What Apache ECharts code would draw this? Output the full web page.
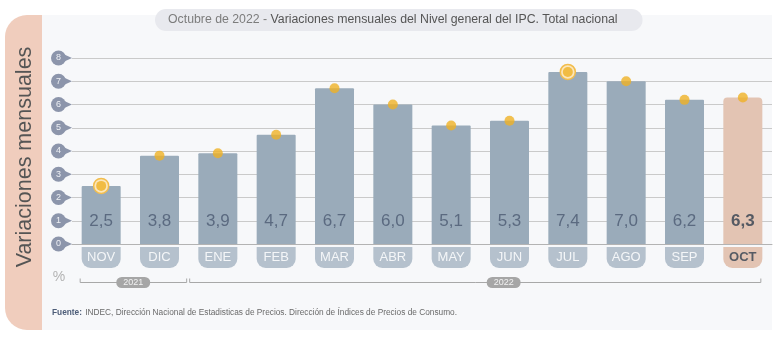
<!DOCTYPE html>
<html>
<head>
<meta charset="utf-8">
<title>IPC - Variaciones mensuales</title>
<script src="https://cdn.jsdelivr.net/npm/echarts@6/dist/echarts.min.js"></script>
<style>
  html, body { margin: 0; padding: 0; background: #ffffff; }
  #chart { width: 781px; height: 338px; }
</style>
</head>
<body>
<div id="chart"></div>
<script>
// Monthly change of the national CPI (general level), Nov 2021 - Oct 2022
const months = ['NOV', 'DIC', 'ENE', 'FEB', 'MAR', 'ABR', 'MAY', 'JUN', 'JUL', 'AGO', 'SEP', 'OCT'];
const monthlyChange = [2.5, 3.8, 3.9, 4.7, 6.7, 6.0, 5.1, 5.3, 7.4, 7.0, 6.2, 6.3];
const yTicks = [0, 1, 2, 3, 4, 5, 6, 7, 8];
const yearLabels = ['2021', '2022'];
const yearFirstMonth = [0, 2];
const yearLastMonth = [1, 11];

const titleDate = 'Octubre de 2022 - ';
const titleText = 'Variaciones mensuales del Nivel general del IPC. Total nacional';
const yAxisTitle = 'Variaciones mensuales';
const unitText = '%';
const sourceLabel = 'Fuente:';
const sourceText = 'INDEC, Dirección Nacional de Estadisticas de Precios. Dirección de Índices de Precios de Consumo.';

const FONT = '"Liberation Sans", Arial, Helvetica, sans-serif';
const BAR = '#9aabba';
const BAR_CURRENT = '#e3c4b3';
const PILL = '#b5c1cd';
const BUBBLE = '#8c95ab';
const DOT = '#efb125';
const lastIdx = months.length - 1;

const fmt = v => v.toFixed(1).replace('.', ',');

const chart = echarts.init(document.getElementById('chart'), null, { renderer: 'canvas' });

const option = {
  backgroundColor: '#ffffff',
  animation: false,
  textStyle: { fontFamily: FONT },
  title: {
    text: '{a|' + titleDate + '}{b|' + titleText + '}',
    left: 155,
    top: 8,
    padding: [5, 25, 5, 13],
    backgroundColor: '#e8e9ee',
    borderRadius: 12,
    textStyle: {
      fontWeight: 'normal',
      rich: {
        a: { color: '#7c7c7c', fontSize: 12.3, fontWeight: 'normal', fontFamily: FONT, lineHeight: 14 },
        b: { color: '#555555', fontSize: 12.3, fontWeight: 'normal', fontFamily: FONT, lineHeight: 14 }
      }
    }
  },
  grid: { left: 72, right: 9, top: 58, bottom: 94, containLabel: false },
  xAxis: {
    type: 'category',
    data: months,
    axisLine: { show: true, lineStyle: { color: '#b3b3b3', width: 1 } },
    axisTick: { show: false },
    axisLabel: {
      margin: 3,
      interval: 0,
      formatter: (value, index) => (index === lastIdx ? '{o|' + value + '}' : '{p|' + value + '}'),
      rich: {
        p: {
          width: 39, height: 21, lineHeight: 21, align: 'center',
          backgroundColor: PILL, borderRadius: [0, 0, 9, 9],
          color: '#f4f6f8', fontSize: 13, fontFamily: FONT
        },
        o: {
          width: 39, height: 21, lineHeight: 21, align: 'center',
          backgroundColor: BAR_CURRENT, borderRadius: [0, 0, 9, 9],
          color: '#565b64', fontSize: 13, fontWeight: 'bold', fontFamily: FONT
        }
      }
    }
  },
  yAxis: {
    type: 'value',
    min: 0,
    max: 8,
    interval: 1,
    axisLine: { show: false },
    axisTick: { show: false },
    splitLine: { lineStyle: { color: '#cacaca', width: 1 } },
    axisLabel: {
      margin: 6,
      formatter: v => '{c|' + v + '}',
      rich: {
        c: {
          width: 15, height: 15, lineHeight: 15, align: 'center',
          backgroundColor: BUBBLE, borderRadius: 7.5,
          color: '#eef0f4', fontSize: 9, fontFamily: FONT
        }
      }
    }
  },
  series: [
    {
      // pointed tips of the y-axis tick bubbles
      type: 'custom',
      clip: false,
      silent: true,
      z: 1,
      data: yTicks.map(v => [0, v]),
      encode: { x: 0, y: 1 },
      renderItem: (params, api) => {
        const p = api.coord([0, api.value(1)]);
        const left = params.coordSys.x;
        return {
          type: 'polygon',
          shape: { points: [[left - 11, p[1] - 5], [left, p[1]], [left - 11, p[1] + 5]] },
          style: { fill: BUBBLE }
        };
      }
    },
    {
      type: 'bar',
      barWidth: 39,
      data: monthlyChange.map((v, i) => ({
        value: v,
        itemStyle: {
          color: i === lastIdx ? BAR_CURRENT : BAR,
          borderRadius: i === lastIdx ? [4, 4, 0, 0] : [1, 1, 0, 0]
        },
        label: i === lastIdx ? { color: '#555a63', fontWeight: 'bold' } : undefined
      })),
      label: {
        show: true,
        position: 'insideBottom',
        distance: 14,
        fontSize: 17,
        fontFamily: FONT,
        color: '#5b6a80',
        formatter: p => fmt(p.value)
      },
      markPoint: {
        symbol: 'circle',
        symbolSize: 15,
        silent: true,
        label: { show: false },
        itemStyle: { color: '#fbe6bb', borderColor: '#f2bd4c', borderWidth: 1.5 },
        data: [{ type: 'min' }, { type: 'max' }]
      }
    },
    {
      type: 'scatter',
      z: 10,
      symbol: 'circle',
      symbolSize: 10,
      itemStyle: { color: DOT },
      data: monthlyChange
    }
  ],
  graphic: {
    elements: [
      {
        type: 'rect', z: -10, silent: true,
        shape: { x: 42, y: 15, width: 730, height: 315 },
        style: { fill: '#f7f8fa' }
      },
      {
        type: 'rect', z: -10, silent: true,
        shape: { x: 5, y: 15, width: 37, height: 315, r: [22, 0, 0, 22] },
        style: { fill: '#f0cdbd' }
      },
      {
        type: 'text', silent: true,
        x: 25, y: 157, rotation: Math.PI / 2,
        style: {
          text: yAxisTitle, fill: '#555555',
          font: '21.5px ' + FONT, align: 'center', verticalAlign: 'middle'
        }
      },
      {
        type: 'text', silent: true,
        x: 59, y: 277,
        style: { text: unitText, fill: '#b3b3b3', font: '14px ' + FONT, align: 'center', verticalAlign: 'middle' }
      },
      {
        type: 'text', silent: true,
        x: 52, y: 313,
        style: {
          text: '{b|' + sourceLabel + '} {n|' + sourceText + '}',
          verticalAlign: 'middle',
          rich: {
            b: { fontSize: 8.3, fontWeight: 'bold', fill: '#4d5d78', fontFamily: FONT },
            n: { fontSize: 8.3, fill: '#6a6a6a', fontFamily: FONT }
          }
        }
      }
    ]
  }
};

chart.setOption(option);

// Year brackets under the month labels, placed from the category axis
const px = i => chart.convertToPixel({ xAxisIndex: 0 }, i);
const bracketY = 282.5;
const yearLabelAt = [0.55, 6.9];
const brackets = [];
yearLabels.forEach((label, k) => {
  const a = yearFirstMonth[k], b = yearLastMonth[k];
  const x0 = a === 0 ? px(0) - 21 : (px(a - 1) + px(a)) / 2 + 1;
  const x1 = b === lastIdx ? px(b) + 18 : (px(b) + px(b + 1)) / 2 - 2;
  const cx = px(0) + (px(1) - px(0)) * yearLabelAt[k];
  brackets.push(
    {
      type: 'polyline', silent: true,
      shape: { points: [[x0, bracketY - 4], [x0, bracketY], [x1, bracketY], [x1, bracketY - 4]] },
      style: { stroke: '#a8a8a8', lineWidth: 1, fill: null }
    },
    {
      type: 'rect', silent: true,
      shape: { x: cx - 17, y: bracketY - 5.5, width: 34, height: 11, r: 5.5 },
      style: { fill: '#a6a6a6' }
    },
    {
      type: 'text', silent: true,
      x: cx, y: bracketY,
      style: { text: label, fill: '#f2f2f2', font: '9px ' + FONT, align: 'center', verticalAlign: 'middle' }
    }
  );
});
chart.setOption({ graphic: { elements: option.graphic.elements.concat(brackets) } });
</script>
</body>
</html>
